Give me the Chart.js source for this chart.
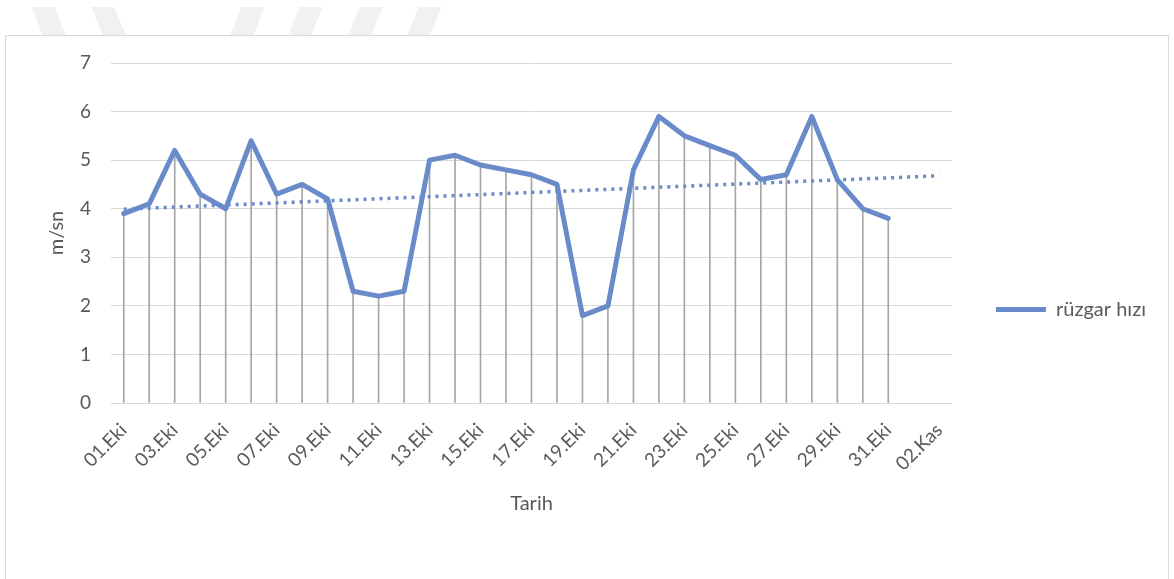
<!DOCTYPE html>
<html>
<head>
<meta charset="utf-8">
<script src="https://cdn.jsdelivr.net/npm/chart.js@4.4.0/dist/chart.umd.min.js"></script>
<style>
  html, body { margin: 0; padding: 0; background: #fff; width: 1174px; height: 579px; overflow: hidden; }
  .band { position: absolute; top: 7px; height: 28px; width: 23px; background: #f1f1f1; }
  .band.l { transform: skewX(22deg); }
  .band.r { transform: skewX(-22deg); }
  #kutu { position: absolute; left: 5px; top: 35px; width: 1162px; height: 560px;
          border: 1px solid #d9d9d9; background: #fff; }
  #grafik { display: block; }
</style>
</head>
<body>
<div class="band l" style="left:37px"></div>
<div class="band l" style="left:97px"></div>
<div class="band r" style="left:236px"></div>
<div class="band r" style="left:294px"></div>
<div class="band r" style="left:354px"></div>
<div class="band r" style="left:413px"></div>
<div id="kutu"><canvas id="grafik" width="1162" height="560"></canvas></div>
<script>
// tarih etiketleri (Ekim + Kasım başı)
var gunler = ['01.Eki','02.Eki','03.Eki','04.Eki','05.Eki','06.Eki','07.Eki','08.Eki','09.Eki','10.Eki',
  '11.Eki','12.Eki','13.Eki','14.Eki','15.Eki','16.Eki','17.Eki','18.Eki','19.Eki','20.Eki',
  '21.Eki','22.Eki','23.Eki','24.Eki','25.Eki','26.Eki','27.Eki','28.Eki','29.Eki','30.Eki',
  '31.Eki','01.Kas','02.Kas'];

// günlük ortalama rüzgar hızı (m/sn)
var ruzgar = [3.9, 4.1, 5.2, 4.3, 4.0, 5.4, 4.3, 4.5, 4.2, 2.3,
  2.2, 2.3, 5.0, 5.1, 4.9, 4.8, 4.7, 4.5, 1.8, 2.0,
  4.8, 5.9, 5.5, 5.3, 5.1, 4.6, 4.7, 5.9, 4.6, 4.0,
  3.8];

var yTikler = [0, 1, 2, 3, 4, 5, 6, 7];

// doğrusal eğilim çizgisi (en küçük kareler), 2 gün ileri uzatılmış
var n = ruzgar.length, sx = 0, sy = 0, sxy = 0, sxx = 0;
ruzgar.forEach(function (v, i) { sx += i; sy += v; sxy += i * v; sxx += i * i; });
var egim = (n * sxy - sx * sy) / (n * sxx - sx * sx);
var kesen = (sy - egim * sx) / n;
var egilim = gunler.map(function (g, i) { return +(kesen + egim * i).toFixed(3); });

var mavi = '#6a8bca';
var yazi = '#595959';
Chart.defaults.font.family = 'Lato, "Open Sans", sans-serif';
Chart.defaults.color = yazi;

new Chart(document.getElementById('grafik'), {
  type: 'line',
  data: {
    labels: gunler,
    datasets: [
      {
        label: 'rüzgar hızı',
        data: ruzgar,
        borderColor: mavi,
        backgroundColor: mavi,
        borderWidth: 5,
        borderCapStyle: 'round',
        borderJoinStyle: 'round',
        pointRadius: 0,
        tension: 0,
        order: 1
      },
      {
        label: 'eğilim',
        data: egilim,
        borderColor: mavi,
        borderWidth: 3.5,
        borderDash: [3, 5],
        pointRadius: 0,
        order: 2
      },
      {
        // noktalardan eksene inen dikey çizgiler
        type: 'bar',
        label: 'dusey',
        data: ruzgar,
        backgroundColor: '#a6a6a6',
        barThickness: 1,
        order: 3
      }
    ]
  },
  options: {
    responsive: false,
    animation: false,
    layout: { padding: { left: 39, right: 12, top: 27, bottom: 40 } },
    plugins: {
      tooltip: { enabled: false },
      legend: {
        position: 'right',
        labels: {
          filter: function (item) { return item.text === 'rüzgar hızı'; },
          usePointStyle: true,
          pointStyle: 'line',
          pointStyleWidth: 50,
          boxHeight: 6,
          padding: 44,
          color: yazi,
          font: { size: 20 }
        }
      }
    },
    scales: {
      x: {
        offset: true,
        afterFit: function (ax) { ax.height = 153; },
        grid: { display: false, offset: true, drawTicks: false },
        border: { color: '#d9d9d9', width: 1 },
        ticks: {
          autoSkip: false,
          minRotation: 45,
          maxRotation: 45,
          padding: 16,
          color: yazi,
          font: { size: 19 },
          callback: function (v, i) { return i % 2 === 0 ? gunler[i] : ''; }
        },
        title: { display: true, text: 'Tarih', color: yazi, font: { size: 20 }, padding: { top: 0, bottom: 40 } }
      },
      y: {
        min: 0,
        max: 7,
        afterFit: function (ax) { ax.width = 66; ax.paddingTop = 0; ax.paddingBottom = 0; },
        afterBuildTicks: function (ax) { ax.ticks = yTikler.map(function (v) { return { value: v }; }); },
        grid: { color: '#d9d9d9', drawTicks: false },
        border: { display: false },
        ticks: { color: yazi, font: { size: 19 }, padding: 20 },
        title: { display: true, text: 'm/sn', color: yazi, font: { size: 20 }, padding: 0 }
      }
    }
  }
});
</script>
</body>
</html>
